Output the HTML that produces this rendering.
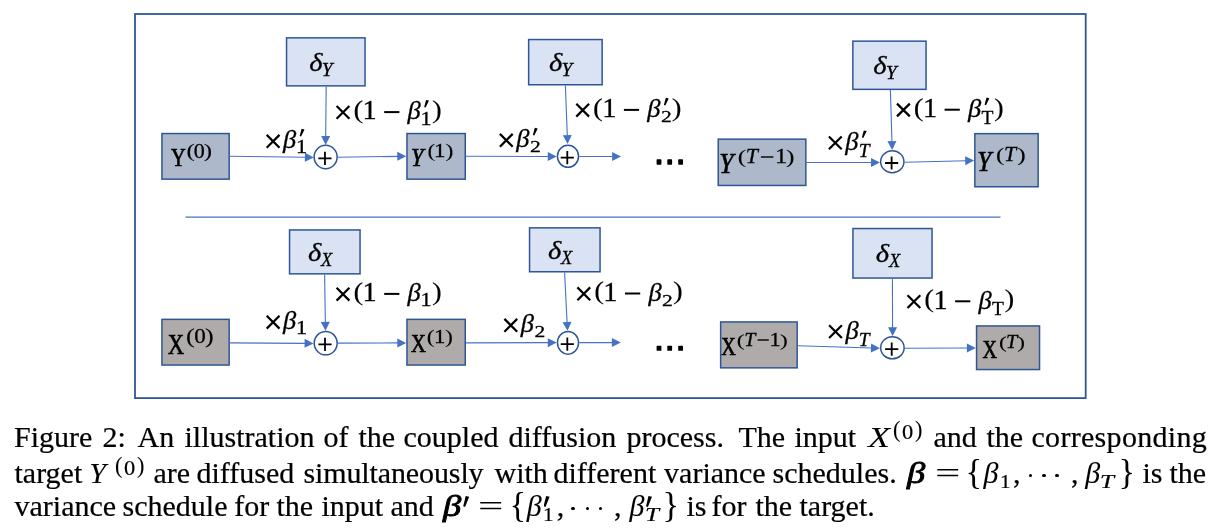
<!DOCTYPE html>
<html><head><meta charset="utf-8"><title>Figure 2</title>
<style>
html,body{margin:0;padding:0;background:#fff;}
body{width:1215px;height:532px;position:relative;overflow:hidden;font-family:"Liberation Serif",serif;}
svg{position:absolute;left:0;top:0;will-change:transform;}
.cap{position:absolute;left:0;font-size:30px;line-height:34px;height:34px;width:1215px;white-space:nowrap;color:#000;-webkit-text-stroke:0.22px #000;}
.cap span{position:absolute;top:0;}
.cap .mi{font-style:italic;-webkit-text-stroke:0.05px #000;}
.cap .mb{font-style:italic;-webkit-text-stroke:0.85px #000;}
.cap .pa{font-size:22.2px;top:-7.1px;-webkit-text-stroke:0.1px #000;}
.cap .ze{font-size:20px;top:-5.8px;transform:scaleX(1.12);transform-origin:0 50%;}
.cap .sb{font-size:18.5px;top:8.9px;transform:scaleX(1.15);transform-origin:0 50%;}
.cap .sbi{font-size:18px;top:8.6px;font-style:italic;transform:scaleX(1.4);transform-origin:0 50%;}
.cap .br{-webkit-text-stroke:0;transform:scale(1.15,1.2);transform-origin:2.7px 21.5px;}
.cap .eq{-webkit-text-stroke:0;transform:scale(1.5,1);transform-origin:0 50%;}
.cap .dot{font-size:0;width:3.4px;height:3.4px;border-radius:50%;background:#000;}
.cap .pr{font-size:0;width:6px;height:11px;top:6.6px;background:#000;clip-path:polygon(42% 0,100% 7%,32% 100%,0 92%);}
</style></head><body>
<svg width="1215" height="532" viewBox="0 0 1215 532" font-family="Liberation Serif, serif" fill="#000">
<rect x="135" y="14" width="950.7" height="384.1" fill="none" stroke="#2F5597" stroke-width="1.8"/>
<line x1="185.5" y1="217.1" x2="1000.5" y2="217.1" stroke="#4472C4" stroke-width="1.1"/>
<rect x="286.55" y="37.85" width="78.5" height="48" fill="#DAE3F3" stroke="#2F5597" stroke-width="1.5"/>
<rect x="528.65" y="39.55" width="73.5" height="45.2" fill="#DAE3F3" stroke="#2F5597" stroke-width="1.5"/>
<rect x="852.85" y="41.15" width="73.2" height="48.2" fill="#DAE3F3" stroke="#2F5597" stroke-width="1.5"/>
<rect x="161.95" y="133.55" width="67.2" height="45.6" fill="#ADB9CA" stroke="#2F5597" stroke-width="1.5"/>
<rect x="406.95" y="133.55" width="58.3" height="45.6" fill="#ADB9CA" stroke="#2F5597" stroke-width="1.5"/>
<rect x="718.25" y="139.15" width="87.6" height="46.3" fill="#ADB9CA" stroke="#2F5597" stroke-width="1.5"/>
<rect x="974.85" y="133.65" width="63.3" height="53.1" fill="#ADB9CA" stroke="#2F5597" stroke-width="1.5"/>
<rect x="289.55" y="229.95" width="70.5" height="43.9" fill="#DAE3F3" stroke="#2F5597" stroke-width="1.5"/>
<rect x="529.55" y="227.85" width="70.5" height="43.9" fill="#DAE3F3" stroke="#2F5597" stroke-width="1.5"/>
<rect x="852.95" y="228.55" width="79.1" height="49.5" fill="#DAE3F3" stroke="#2F5597" stroke-width="1.5"/>
<rect x="161.95" y="319.35" width="67.2" height="45.7" fill="#AFABAB" stroke="#2F5597" stroke-width="1.5"/>
<rect x="406.95" y="319.35" width="58.3" height="45.7" fill="#AFABAB" stroke="#2F5597" stroke-width="1.5"/>
<rect x="720.65" y="321.95" width="76.5" height="45.9" fill="#AFABAB" stroke="#2F5597" stroke-width="1.5"/>
<rect x="976.55" y="325.95" width="63" height="43.6" fill="#AFABAB" stroke="#2F5597" stroke-width="1.5"/>
<line x1="229.9" y1="156.2" x2="305.9" y2="157.29" stroke="#4472C4" stroke-width="1.1"/>
<polygon points="313.8,157.4 304.84,161.77 304.97,152.77" fill="#4472C4"/>
<line x1="326.2" y1="86.6" x2="325.68" y2="137" stroke="#4472C4" stroke-width="1.1"/>
<polygon points="325.6,144.9 321.19,135.95 330.19,136.05" fill="#4472C4"/>
<line x1="337.8" y1="157.3" x2="398.3" y2="156.33" stroke="#4472C4" stroke-width="1.1"/>
<polygon points="406.2,156.2 397.37,160.84 397.23,151.84" fill="#4472C4"/>
<line x1="466" y1="156.2" x2="548.8" y2="156.47" stroke="#4472C4" stroke-width="1.1"/>
<polygon points="556.7,156.5 547.79,160.97 547.81,151.97" fill="#4472C4"/>
<line x1="565.4" y1="85.5" x2="567.3" y2="136.11" stroke="#4472C4" stroke-width="1.1"/>
<polygon points="567.6,144 562.77,135.28 571.76,134.94" fill="#4472C4"/>
<line x1="579.3" y1="156.5" x2="613.1" y2="156.5" stroke="#4472C4" stroke-width="1.1"/>
<polygon points="621,156.5 612.1,161 612.1,152" fill="#4472C4"/>
<line x1="806.6" y1="162.5" x2="872" y2="162.5" stroke="#4472C4" stroke-width="1.1"/>
<polygon points="879.9,162.5 871,167 871,158" fill="#4472C4"/>
<line x1="890.4" y1="90.1" x2="891.96" y2="142.1" stroke="#4472C4" stroke-width="1.1"/>
<polygon points="892.2,150 887.43,141.24 896.43,140.97" fill="#4472C4"/>
<line x1="904.7" y1="162.3" x2="966.2" y2="160.7" stroke="#4472C4" stroke-width="1.1"/>
<polygon points="974.1,160.5 965.32,165.23 965.09,156.23" fill="#4472C4"/>
<ellipse cx="325.65" cy="157.05" rx="11.5" ry="11.7" fill="#fff" stroke="#2F5597" stroke-width="1.5"/>
<path d="M318.35 158.35H331.55M324.95 151.75V164.95" stroke="#000" stroke-width="1.8" fill="none"/>
<ellipse cx="568" cy="156.35" rx="10.55" ry="11" fill="#fff" stroke="#2F5597" stroke-width="1.5"/>
<path d="M560.7 157.65H573.9M567.3 151.05V164.25" stroke="#000" stroke-width="1.8" fill="none"/>
<ellipse cx="892.3" cy="161.7" rx="11.65" ry="10.95" fill="#fff" stroke="#2F5597" stroke-width="1.5"/>
<path d="M885 163H898.2M891.6 156.4V169.6" stroke="#000" stroke-width="1.8" fill="none"/>
<line x1="229.9" y1="342.9" x2="305.6" y2="343.35" stroke="#4472C4" stroke-width="1.1"/>
<polygon points="313.5,343.4 304.57,347.85 304.63,338.85" fill="#4472C4"/>
<line x1="324.6" y1="274.6" x2="325.37" y2="322.9" stroke="#4472C4" stroke-width="1.1"/>
<polygon points="325.5,330.8 320.86,321.97 329.86,321.83" fill="#4472C4"/>
<line x1="338" y1="343.1" x2="398.3" y2="342.92" stroke="#4472C4" stroke-width="1.1"/>
<polygon points="406.2,342.9 397.31,347.43 397.29,338.43" fill="#4472C4"/>
<line x1="466" y1="342.9" x2="548.8" y2="342.63" stroke="#4472C4" stroke-width="1.1"/>
<polygon points="556.7,342.6 547.81,347.13 547.79,338.13" fill="#4472C4"/>
<line x1="564.6" y1="272.5" x2="567.11" y2="322.91" stroke="#4472C4" stroke-width="1.1"/>
<polygon points="567.5,330.8 562.56,322.13 571.55,321.69" fill="#4472C4"/>
<line x1="579.3" y1="342.6" x2="612.9" y2="342.6" stroke="#4472C4" stroke-width="1.1"/>
<polygon points="620.8,342.6 611.9,347.1 611.9,338.1" fill="#4472C4"/>
<line x1="797.9" y1="345.8" x2="872" y2="348.06" stroke="#4472C4" stroke-width="1.1"/>
<polygon points="879.9,348.3 870.87,352.53 871.14,343.53" fill="#4472C4"/>
<line x1="892.4" y1="278.8" x2="892.57" y2="328.3" stroke="#4472C4" stroke-width="1.1"/>
<polygon points="892.6,336.2 888.07,327.32 897.07,327.28" fill="#4472C4"/>
<line x1="904.9" y1="348.3" x2="967.9" y2="347.94" stroke="#4472C4" stroke-width="1.1"/>
<polygon points="975.8,347.9 966.93,352.45 966.87,343.45" fill="#4472C4"/>
<ellipse cx="325.7" cy="343.15" rx="11.47" ry="11.7" fill="#fff" stroke="#2F5597" stroke-width="1.5"/>
<path d="M318.4 344.45H331.6M325 337.85V351.05" stroke="#000" stroke-width="1.8" fill="none"/>
<ellipse cx="568" cy="342.8" rx="10.55" ry="11.35" fill="#fff" stroke="#2F5597" stroke-width="1.5"/>
<path d="M560.7 344.1H573.9M567.3 337.5V350.7" stroke="#000" stroke-width="1.8" fill="none"/>
<ellipse cx="892.4" cy="347.85" rx="11.75" ry="11" fill="#fff" stroke="#2F5597" stroke-width="1.5"/>
<path d="M885.1 349.15H898.3M891.7 342.55V355.75" stroke="#000" stroke-width="1.8" fill="none"/>
<rect x="656.6" y="159.3" width="4.8" height="5.4" rx="0.6" fill="#000"/>
<rect x="667.3" y="159.3" width="4.8" height="5.4" rx="0.6" fill="#000"/>
<rect x="678.2" y="159.3" width="4.8" height="5.4" rx="0.6" fill="#000"/>
<rect x="656.6" y="345.8" width="4.8" height="5.0" rx="0.6" fill="#000"/>
<rect x="667.3" y="345.8" width="4.8" height="5.0" rx="0.6" fill="#000"/>
<rect x="678.2" y="345.8" width="4.8" height="5.0" rx="0.6" fill="#000"/>
<text transform="translate(309.14 70.8) scale(1.1 1)" font-size="26" font-style="italic" stroke="#000" stroke-width="0.3">δ</text>
<text x="321.84" y="75.6" font-size="19.4" font-style="italic" stroke="#000" stroke-width="0.3">Y</text>
<text transform="translate(549.04 71.1) scale(1.1 1)" font-size="26" font-style="italic" stroke="#000" stroke-width="0.3">δ</text>
<text x="561.44" y="76.3" font-size="19.4" font-style="italic" stroke="#000" stroke-width="0.3">Y</text>
<text transform="translate(873.34 73.9) scale(1.1 1)" font-size="26" font-style="italic" stroke="#000" stroke-width="0.3">δ</text>
<text x="885.94" y="78.9" font-size="19.4" font-style="italic" stroke="#000" stroke-width="0.3">Y</text>
<text transform="translate(307.94 260.9) scale(1.1 1)" font-size="26" font-style="italic" stroke="#000" stroke-width="0.3">δ</text>
<text transform="translate(321.05 265.9) scale(0.95 1)" font-size="19.4" font-style="italic" stroke="#000" stroke-width="0.3">X</text>
<text transform="translate(547.94 258.6) scale(1.1 1)" font-size="26" font-style="italic" stroke="#000" stroke-width="0.3">δ</text>
<text transform="translate(561.05 263.7) scale(0.95 1)" font-size="19.4" font-style="italic" stroke="#000" stroke-width="0.3">X</text>
<text transform="translate(875.74 261.8) scale(1.1 1)" font-size="26" font-style="italic" stroke="#000" stroke-width="0.3">δ</text>
<text transform="translate(889.05 267) scale(0.95 1)" font-size="19.4" font-style="italic" stroke="#000" stroke-width="0.3">X</text>
<text transform="translate(171.1 165.8) scale(0.81 1)" font-size="25.03" stroke="#000" stroke-width="0.7">Y</text>
<text transform="translate(186.38 157.4) scale(1.3157894736842106 1)" font-size="19.0" stroke="#000" stroke-width="0.1">(</text>
<text transform="translate(193.82 157.7) scale(1.1 1)" font-size="20" stroke="#000" stroke-width="0.3">0</text>
<text transform="translate(203.85 157.4) scale(1.3157894736842106 1)" font-size="19.0" stroke="#000" stroke-width="0.1">)</text>
<text transform="translate(411.05 165.6) scale(0.88 1)" font-size="25.51" font-style="italic" stroke="#000" stroke-width="0.7">Y</text>
<text transform="translate(427.53 156.9) scale(1.3157894736842106 1)" font-size="18.05" stroke="#000" stroke-width="0.1">(</text>
<text transform="translate(434.05 157.2) scale(1.2 1)" font-size="19" stroke="#000" stroke-width="0.3">1</text>
<text transform="translate(445.59 156.9) scale(1.3157894736842106 1)" font-size="18.05" stroke="#000" stroke-width="0.1">)</text>
<text transform="translate(719.26 172.6) scale(0.88 1)" font-size="29.1" font-style="italic" stroke="#000" stroke-width="0.7">Y</text>
<text transform="translate(737.76 162.9) scale(1.3157894736842106 1)" font-size="19.29" stroke="#000" stroke-width="0.1">(</text>
<text transform="translate(745.67 163.2) scale(1.08 1)" font-size="20.3" font-style="italic" stroke="#000" stroke-width="0.3">T</text>
<path d="M760.9 157H773.4" stroke="#000" stroke-width="1.4"/>
<text transform="translate(774.91 163.2) scale(1.2 1)" font-size="20.3" stroke="#000" stroke-width="0.3">1</text>
<text transform="translate(786.04 162.9) scale(1.3157894736842106 1)" font-size="19.29" stroke="#000" stroke-width="0.1">)</text>
<text transform="translate(977.19 171.2) scale(0.88 1)" font-size="28.61" font-style="italic" stroke="#000" stroke-width="0.7">Y</text>
<text transform="translate(996.06 160.5) scale(1.3157894736842106 1)" font-size="19.29" stroke="#000" stroke-width="0.1">(</text>
<text transform="translate(1003.97 160.8) scale(1.08 1)" font-size="20.3" font-style="italic" stroke="#000" stroke-width="0.3">T</text>
<text transform="translate(1017.14 160.5) scale(1.3157894736842106 1)" font-size="19.29" stroke="#000" stroke-width="0.1">)</text>
<text transform="translate(167.64 353.7) scale(0.79 1)" font-size="28.81" stroke="#000" stroke-width="0.7">X</text>
<text transform="translate(186.02 343) scale(1.3157894736842106 1)" font-size="19.95" stroke="#000" stroke-width="0.1">(</text>
<text transform="translate(194.28 343.3) scale(1.1 1)" font-size="21" stroke="#000" stroke-width="0.3">0</text>
<text transform="translate(205.11 343) scale(1.3157894736842106 1)" font-size="19.95" stroke="#000" stroke-width="0.1">)</text>
<text transform="translate(410.89 352.2) scale(0.79 1)" font-size="26.0" stroke="#000" stroke-width="0.7">X</text>
<text transform="translate(426.83 342.9) scale(1.3157894736842106 1)" font-size="18.05" stroke="#000" stroke-width="0.1">(</text>
<text transform="translate(433.95 343.2) scale(1.2 1)" font-size="19" stroke="#000" stroke-width="0.3">1</text>
<text transform="translate(444.99 342.9) scale(1.3157894736842106 1)" font-size="18.05" stroke="#000" stroke-width="0.1">)</text>
<text transform="translate(721.3 355.2) scale(0.79 1)" font-size="25.51" stroke="#000" stroke-width="0.7">X</text>
<text transform="translate(736.85 345.5) scale(1.3157894736842106 1)" font-size="17.67" stroke="#000" stroke-width="0.1">(</text>
<text transform="translate(744.19 345.8) scale(1.08 1)" font-size="18.6" font-style="italic" stroke="#000" stroke-width="0.3">T</text>
<path d="M757.6 340H768.8" stroke="#000" stroke-width="1.4"/>
<text transform="translate(769.39 345.8) scale(1.2 1)" font-size="18.6" stroke="#000" stroke-width="0.3">1</text>
<text transform="translate(780 345.5) scale(1.3157894736842106 1)" font-size="17.67" stroke="#000" stroke-width="0.1">)</text>
<text transform="translate(982.5 357.6) scale(0.79 1)" font-size="25.51" stroke="#000" stroke-width="0.7">X</text>
<text transform="translate(999.05 347.5) scale(1.3157894736842106 1)" font-size="17.67" stroke="#000" stroke-width="0.1">(</text>
<text transform="translate(1006.09 347.8) scale(1.08 1)" font-size="18.6" font-style="italic" stroke="#000" stroke-width="0.3">T</text>
<text transform="translate(1017.2 347.5) scale(1.3157894736842106 1)" font-size="17.67" stroke="#000" stroke-width="0.1">)</text>
<path d="M266.7 134.9L279.5 147.7M279.5 134.9L266.7 147.7" stroke="#000" stroke-width="2.2" fill="none"/>
<text transform="translate(283.1 148.3) scale(1.04 1)" font-size="25.5" font-style="italic" stroke="#000" stroke-width="0.3">β</text>
<polygon points="301.6,128.8 304.5,129.5 301.1,136.5 299.7,136" fill="#000"/>
<text transform="translate(295.91 153.4) scale(1.2 1)" font-size="18.4" stroke="#000" stroke-width="0.3">1</text>
<path d="M336.6 106L349.4 118.8M349.4 106L336.6 118.8" stroke="#000" stroke-width="2.2" fill="none"/>
<text transform="translate(353.38 117.9) scale(1.15 1)" font-size="25.6" stroke="#000" stroke-width="0.1">(</text>
<text transform="translate(362.55 119.4) scale(1.05 1)" font-size="27" stroke="#000" stroke-width="0.3">1</text>
<path d="M384.2 112.1H399.4" stroke="#000" stroke-width="2.0"/>
<text transform="translate(407.6 119.4) scale(1.04 1)" font-size="25.5" font-style="italic" stroke="#000" stroke-width="0.3">β</text>
<polygon points="426.1,99.9 429,100.6 425.6,107.6 424.2,107.1" fill="#000"/>
<text transform="translate(420.41 124.5) scale(1.2 1)" font-size="18.4" stroke="#000" stroke-width="0.3">1</text>
<text transform="translate(432.12 117.9) scale(1.15 1)" font-size="25.6" stroke="#000" stroke-width="0.1">)</text>
<path d="M499.9 133.9L512.7 146.7M512.7 133.9L499.9 146.7" stroke="#000" stroke-width="2.2" fill="none"/>
<text transform="translate(516.3 147.3) scale(1.04 1)" font-size="25.5" font-style="italic" stroke="#000" stroke-width="0.3">β</text>
<polygon points="534.8,127.8 537.7,128.5 534.3,135.5 532.9,135" fill="#000"/>
<text transform="translate(529.93 152.3) scale(1.27 1)" font-size="17.0" stroke="#000" stroke-width="0.3">2</text>
<path d="M576.3 103.8L589.1 116.6M589.1 103.8L576.3 116.6" stroke="#000" stroke-width="2.2" fill="none"/>
<text transform="translate(593.08 115.7) scale(1.15 1)" font-size="25.6" stroke="#000" stroke-width="0.1">(</text>
<text transform="translate(602.25 117.2) scale(1.05 1)" font-size="27" stroke="#000" stroke-width="0.3">1</text>
<path d="M623.9 109.9H639.1" stroke="#000" stroke-width="2.0"/>
<text transform="translate(647.3 117.2) scale(1.04 1)" font-size="25.5" font-style="italic" stroke="#000" stroke-width="0.3">β</text>
<polygon points="665.8,97.7 668.7,98.4 665.3,105.4 663.9,104.9" fill="#000"/>
<text transform="translate(660.93 122.2) scale(1.27 1)" font-size="17.0" stroke="#000" stroke-width="0.3">2</text>
<text transform="translate(671.82 115.7) scale(1.15 1)" font-size="25.6" stroke="#000" stroke-width="0.1">)</text>
<path d="M828.9 136.5L841.7 149.3M841.7 136.5L828.9 149.3" stroke="#000" stroke-width="2.2" fill="none"/>
<text transform="translate(845.3 149.9) scale(1.04 1)" font-size="25.5" font-style="italic" stroke="#000" stroke-width="0.3">β</text>
<polygon points="863.8,130.4 866.7,131.1 863.3,138.1 861.9,137.6" fill="#000"/>
<text transform="translate(858.64 156.9) scale(1.08 1)" font-size="18" font-style="italic" stroke="#000" stroke-width="0.3">T</text>
<path d="M897 103.6L909.8 116.4M909.8 103.6L897 116.4" stroke="#000" stroke-width="2.2" fill="none"/>
<text transform="translate(913.78 115.5) scale(1.15 1)" font-size="25.6" stroke="#000" stroke-width="0.1">(</text>
<text transform="translate(922.95 117) scale(1.05 1)" font-size="27" stroke="#000" stroke-width="0.3">1</text>
<path d="M944.6 109.7H959.8" stroke="#000" stroke-width="2.0"/>
<text transform="translate(968 117) scale(1.04 1)" font-size="25.5" font-style="italic" stroke="#000" stroke-width="0.3">β</text>
<polygon points="986.5,97.5 989.4,98.2 986,105.2 984.6,104.7" fill="#000"/>
<text x="981.61" y="123.8" font-size="19.5" stroke="#000" stroke-width="0.3">T</text>
<text transform="translate(994.12 115.5) scale(1.15 1)" font-size="25.6" stroke="#000" stroke-width="0.1">)</text>
<path d="M266.7 315.8L279.5 328.6M279.5 315.8L266.7 328.6" stroke="#000" stroke-width="2.2" fill="none"/>
<text transform="translate(283.1 329.2) scale(1.04 1)" font-size="25.5" font-style="italic" stroke="#000" stroke-width="0.3">β</text>
<text transform="translate(295.91 334.3) scale(1.2 1)" font-size="18.4" stroke="#000" stroke-width="0.3">1</text>
<path d="M336.6 287.8L349.4 300.6M349.4 287.8L336.6 300.6" stroke="#000" stroke-width="2.2" fill="none"/>
<text transform="translate(353.38 299.7) scale(1.15 1)" font-size="25.6" stroke="#000" stroke-width="0.1">(</text>
<text transform="translate(362.55 301.2) scale(1.05 1)" font-size="27" stroke="#000" stroke-width="0.3">1</text>
<path d="M384.2 293.9H399.4" stroke="#000" stroke-width="2.0"/>
<text transform="translate(407.6 301.2) scale(1.04 1)" font-size="25.5" font-style="italic" stroke="#000" stroke-width="0.3">β</text>
<text transform="translate(420.41 306.3) scale(1.2 1)" font-size="18.4" stroke="#000" stroke-width="0.3">1</text>
<text transform="translate(432.12 299.7) scale(1.15 1)" font-size="25.6" stroke="#000" stroke-width="0.1">)</text>
<path d="M504.4 318.9L517.2 331.7M517.2 318.9L504.4 331.7" stroke="#000" stroke-width="2.2" fill="none"/>
<text transform="translate(520.8 332.3) scale(1.04 1)" font-size="25.5" font-style="italic" stroke="#000" stroke-width="0.3">β</text>
<text transform="translate(534.43 337.3) scale(1.27 1)" font-size="17.0" stroke="#000" stroke-width="0.3">2</text>
<path d="M577.4 287.4L590.2 300.2M590.2 287.4L577.4 300.2" stroke="#000" stroke-width="2.2" fill="none"/>
<text transform="translate(594.18 299.3) scale(1.15 1)" font-size="25.6" stroke="#000" stroke-width="0.1">(</text>
<text transform="translate(603.35 300.8) scale(1.05 1)" font-size="27" stroke="#000" stroke-width="0.3">1</text>
<path d="M625 293.5H640.2" stroke="#000" stroke-width="2.0"/>
<text transform="translate(648.4 300.8) scale(1.04 1)" font-size="25.5" font-style="italic" stroke="#000" stroke-width="0.3">β</text>
<text transform="translate(662.03 305.8) scale(1.27 1)" font-size="17.0" stroke="#000" stroke-width="0.3">2</text>
<text transform="translate(672.92 299.3) scale(1.15 1)" font-size="25.6" stroke="#000" stroke-width="0.1">)</text>
<path d="M829.1 325.2L841.9 338M841.9 325.2L829.1 338" stroke="#000" stroke-width="2.2" fill="none"/>
<text transform="translate(845.5 338.6) scale(1.04 1)" font-size="25.5" font-style="italic" stroke="#000" stroke-width="0.3">β</text>
<text transform="translate(858.84 345.6) scale(1.08 1)" font-size="18" font-style="italic" stroke="#000" stroke-width="0.3">T</text>
<path d="M907.5 295.2L920.3 308M920.3 295.2L907.5 308" stroke="#000" stroke-width="2.2" fill="none"/>
<text transform="translate(924.28 307.1) scale(1.15 1)" font-size="25.6" stroke="#000" stroke-width="0.1">(</text>
<text transform="translate(933.45 308.6) scale(1.05 1)" font-size="27" stroke="#000" stroke-width="0.3">1</text>
<path d="M955.1 301.3H970.3" stroke="#000" stroke-width="2.0"/>
<text transform="translate(978.5 308.6) scale(1.04 1)" font-size="25.5" font-style="italic" stroke="#000" stroke-width="0.3">β</text>
<text x="992.11" y="315.4" font-size="19.5" stroke="#000" stroke-width="0.3">T</text>
<text transform="translate(1004.62 307.1) scale(1.15 1)" font-size="25.6" stroke="#000" stroke-width="0.1">)</text>
</svg>
<div class="cap" style="top:420.47px"><span style="left:14.1px;">Figure</span> <span style="left:102.5px;">2:</span> <span style="left:137.5px;">An</span> <span style="left:184.5px;">illustration</span> <span style="left:323.5px;">of</span> <span style="left:358.5px;">the</span> <span style="left:403.5px;">coupled</span> <span style="left:508.5px;">diffusion</span> <span style="left:626.5px;">process.</span> <span style="left:738.5px;">The</span> <span style="left:794.5px;">input</span> <span class="mi" style="left:868.2px;transform:scaleX(1.2);transform-origin:0 50%">X</span> <span class="pa" style="left:893.0px;">(</span> <span class="ze" style="left:901.6px;">0</span> <span class="pa" style="left:915.1px;">)</span> <span style="left:933.5px;">and</span> <span style="left:986.5px;">the</span> <span style="left:1031.5px;letter-spacing:0.3px">corresponding</span> </div>
<div class="cap" style="top:456.47px"><span style="left:14.5px;">target</span> <span class="mi" style="left:89.2px;">Y</span> <span class="pa" style="left:115.0px;">(</span> <span class="ze" style="left:123.6px;">0</span> <span class="pa" style="left:137.1px;">)</span> <span style="left:153.5px;">are</span> <span style="left:196.5px;">diffused</span> <span style="left:303.5px;letter-spacing:-0.12px">simultaneously</span> <span style="left:494.5px;">with</span> <span style="left:553.5px;">different</span> <span style="left:664.1px;">variance</span> <span style="left:772.5px;">schedules.</span> <span class="mb" style="left:907.0px;transform:scaleX(1.22);transform-origin:0 50%">β</span> <span class="eq" style="left:935.0px;">=</span> <span class="br" style="left:966.4px;">{</span> <span class="mi" style="left:983.5px;">β</span> <span class="sb" style="left:1000.0px;">1</span> <span style="left:1012.9px;">,</span> <span class="dot" style="left:1028.7px;top:17.6px">·</span> <span class="dot" style="left:1042.2px;top:17.6px">·</span> <span class="dot" style="left:1055.4px;top:17.6px">·</span> <span style="left:1071.1px;">,</span> <span class="mi" style="left:1085.2px;">β</span> <span class="sbi" style="left:1099.9px;">T</span> <span class="br" style="left:1118.5px;">}</span> <span style="left:1142.5px;">is</span> <span style="left:1169.5px;">the</span> </div>
<div class="cap" style="top:489.47px"><span style="left:14.5px;">variance</span> <span style="left:122.5px;">schedule</span> <span style="left:234.3px;">for</span> <span style="left:276.5px;">the</span> <span style="left:321.5px;">input</span> <span style="left:390.5px;">and</span> <span class="mb" style="left:442.8px;transform:scaleX(1.22);transform-origin:0 50%">β</span> <span class="pr" style="left:463.2px;">′</span> <span class="eq" style="left:478.0px;">=</span> <span class="br" style="left:509.7px;">{</span> <span class="mi" style="left:526.8px;">β</span> <span class="pr" style="left:543.6px;">′</span> <span class="sb" style="left:542.8px;">1</span> <span style="left:556.7px;">,</span> <span class="dot" style="left:571.3px;top:17.4px">·</span> <span class="dot" style="left:585.6px;top:17.4px">·</span> <span class="dot" style="left:598.7px;top:17.4px">·</span> <span style="left:614.0px;">,</span> <span class="mi" style="left:629.5px;">β</span> <span class="pr" style="left:646.0px;">′</span> <span class="sbi" style="left:644.5px;">T</span> <span class="br" style="left:662.7px;">}</span> <span style="left:686.5px;">is</span> <span style="left:711.5px;">for</span> <span style="left:755.5px;">the</span> <span style="left:799.5px;">target.</span> </div>
</body></html>
